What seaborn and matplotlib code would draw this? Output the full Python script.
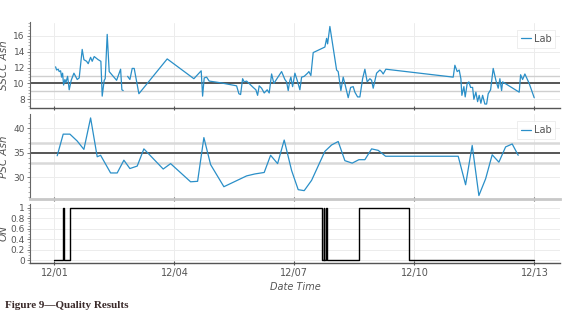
import numpy as np
import pandas as pd
import seaborn as sns
import matplotlib
matplotlib.use("Agg")
import matplotlib.pyplot as plt
import matplotlib.dates as mdates
from matplotlib.ticker import AutoMinorLocator

# ---------------- data (day offsets from 12/01) ----------------
# SSCC Ash, first run (before the short gap)
sscc_days_a = [0.03, 0.055, 0.095, 0.12, 0.155, 0.18, 0.205, 0.23, 0.263, 0.288,
               0.33, 0.37, 0.42, 0.488, 0.57, 0.62, 0.695, 0.738, 0.805, 0.845,
               0.905, 0.945, 0.995, 1.095, 1.162, 1.195, 1.245, 1.27, 1.32, 1.37,
               1.555, 1.655, 1.687, 1.72]
sscc_vals_a = [12.1, 11.7, 11.8, 11.5, 11.6, 10.8, 11.3, 9.8, 10.5, 10.1,
               10.9, 9.2, 10.4, 11.3, 10.5, 10.7, 14.3, 13.0, 12.8, 12.5,
               13.3, 12.8, 13.4, 13.0, 12.8, 8.4, 10.4, 10.6, 16.2, 11.5,
               10.4, 11.8, 9.2, 9.1]
# SSCC Ash, second run
sscc_days_b = [1.83, 1.888, 1.945, 1.995, 2.112, 2.82, 3.487, 3.67, 3.705, 3.745,
               3.805, 3.87, 4.137, 4.555, 4.612, 4.655, 4.705, 4.745, 4.805, 4.97,
               5.037, 5.08, 5.12, 5.18, 5.245, 5.32, 5.37, 5.43, 5.487, 5.537,
               5.68, 5.762, 5.805, 5.845, 5.887, 5.912, 5.955, 6.012, 6.07, 6.137,
               6.18, 6.245, 6.33, 6.362, 6.412, 6.47, 6.762, 6.805, 6.83, 6.887,
               7.055, 7.095, 7.162, 7.22, 7.27, 7.345, 7.405, 7.47, 7.512, 7.58,
               7.637, 7.705, 7.762, 7.82, 7.887, 7.93, 7.97, 8.055, 8.137, 8.18,
               8.22, 8.287, 9.97, 10.012, 10.07, 10.12, 10.162, 10.187, 10.237, 10.27,
               10.32, 10.362, 10.405, 10.455, 10.487, 10.537, 10.58, 10.62, 10.662, 10.705,
               10.762, 10.805, 10.845, 10.905, 10.97, 11.037, 11.095, 11.137, 11.18, 11.205,
               11.62, 11.655, 11.705, 11.762, 11.87, 11.995]
sscc_vals_b = [10.9, 10.5, 11.9, 11.9, 8.7, 13.1, 10.6, 11.6, 8.4, 10.7,
               10.8, 10.3, 10.1, 9.7, 8.7, 8.6, 10.6, 10.2, 10.3, 9.5,
               9.2, 8.5, 9.7, 9.4, 8.8, 9.2, 8.8, 11.2, 10.0, 10.4,
               11.5, 10.5, 10.2, 9.1, 10.4, 10.8, 9.6, 11.3, 10.4, 9.2,
               10.8, 10.9, 11.3, 11.5, 11.0, 13.9, 14.6, 15.7, 15.0, 17.2,
               11.7, 11.5, 9.1, 10.8, 9.8, 8.2, 9.5, 9.6, 8.9, 8.3,
               8.3, 10.6, 11.8, 10.2, 10.6, 10.4, 9.4, 11.3, 11.7, 11.5,
               11.2, 11.8, 10.8, 12.3, 11.5, 11.7, 10.6, 8.5, 9.6, 8.3,
               10.0, 10.2, 9.5, 9.5, 8.0, 8.9, 7.7, 8.5, 7.5, 8.5,
               7.4, 7.4, 8.7, 9.2, 11.9, 10.4, 9.4, 10.6, 9.1, 10.2,
               8.9, 11.1, 10.5, 11.2, 10.0, 8.2]

psc_days = [0.07, 0.22, 0.388, 0.57, 0.737, 0.905, 1.07, 1.155, 1.405, 1.57,
            1.737, 1.887, 2.07, 2.237, 2.72, 2.905, 3.405, 3.58, 3.737, 3.905,
            4.237, 4.805, 5.012, 5.245, 5.405, 5.58, 5.745, 5.93, 6.095, 6.245,
            6.43, 6.762, 6.93, 7.095, 7.262, 7.445, 7.612, 7.762, 7.93, 8.095,
            8.28, 10.095, 10.28, 10.445, 10.612, 10.78, 10.945, 11.112, 11.28, 11.445,
            11.595]
psc_vals = [34.4, 38.8, 38.8, 37.4, 35.7, 42.1, 34.2, 34.5, 30.9, 30.9,
            33.5, 31.8, 32.3, 35.8, 31.7, 32.8, 29.1, 29.2, 38.1, 32.6,
            28.1, 30.3, 30.7, 31.0, 34.5, 32.8, 37.6, 31.4, 27.5, 27.3,
            29.4, 35.3, 36.6, 37.3, 33.4, 32.9, 33.6, 33.6, 35.8, 35.5,
            34.3, 34.3, 28.5, 36.5, 26.3, 29.7, 34.6, 33.1, 36.2, 36.8,
            34.5]

on_days = [0.0, 0.22, 0.232, 0.395, 6.70, 6.735, 6.742, 6.80, 6.807, 7.61, 8.86, 12.0]
on_vals = [0, 1, 0, 1, 0, 1, 0, 1, 0, 1, 0, 0]

date_ticks = ["12/01", "12/04", "12/07", "12/10", "12/13"]
tick_days = [0, 3, 6, 9, 12]

sscc_limits = (9, 10, 11)
psc_limits = (33, 35, 37)

# ---------------- build frames ----------------
start = pd.Timestamp("2021-12-01")

def to_time(days):
    return start + pd.to_timedelta(np.asarray(days, dtype=float), unit="D")

sscc = pd.concat([
    pd.DataFrame({"t": to_time(sscc_days_a), "v": sscc_vals_a, "seg": 0}),
    pd.DataFrame({"t": to_time(sscc_days_b), "v": sscc_vals_b, "seg": 1}),
], ignore_index=True)
psc = pd.DataFrame({"t": to_time(psc_days), "v": psc_vals})
on = pd.DataFrame({"t": to_time(on_days), "v": on_vals})

sns.set_theme(style="white")
plt.rcParams["font.family"] = ["DejaVu Sans"]

W, H = 571, 315
fig = plt.figure(figsize=(W / 100, H / 100), dpi=100)
left, right = 30 / W, 560 / W

def box(top, bottom):
    return [left, 1 - bottom / H, right - left, (bottom - top) / H]

ax1 = fig.add_axes(box(22.5, 108))
ax2 = fig.add_axes(box(114, 199))
ax3 = fig.add_axes(box(204, 263))

blue = "#2a8fc8"
grid_c = "#ececec"
txt_c = "#555555"

for ax in (ax1, ax2, ax3):
    ax.set_facecolor("white")
    for s in ("top", "right"):
        ax.spines[s].set_visible(False)
    ax.spines["left"].set_color("#666666")
    ax.spines["left"].set_linewidth(0.8)
    ax.spines["bottom"].set_color("#555555")
    ax.spines["bottom"].set_linewidth(1.0)
    ax.grid(True, color=grid_c, linewidth=0.7)
    ax.set_axisbelow(True)
    ax.tick_params(axis="y", which="major", length=2.5, width=0.6, color="#666666",
                   labelsize=6.5, labelcolor=txt_c, pad=1.2, left=True)
    ax.tick_params(axis="y", which="minor", length=1.5, width=0.5, color="#888888", left=True)
    ax.tick_params(axis="x", which="major", length=2.5, width=0.8, color="#555555",
                   labelsize=7, labelcolor=txt_c, pad=2, bottom=True, direction="inout")

xlim = (start + pd.Timedelta(days=-0.61), start + pd.Timedelta(days=12.64))
tick_pos = [start + pd.Timedelta(days=d) for d in tick_days]

# panel 1
for y, c, lw in [(sscc_limits[0], "#cfcfcf", 1.0), (sscc_limits[2], "#cfcfcf", 1.0),
                 (sscc_limits[1], "#555555", 1.4)]:
    ax1.axhline(y, color=c, lw=lw, zorder=1)
sns.lineplot(data=sscc, x="t", y="v", units="seg", estimator=None, color=blue, lw=0.9,
             ax=ax1, sort=False)
ax1.set_ylim(6.9, 17.7)
ax1.set_yticks([8, 10, 12, 14, 16])
ax1.yaxis.set_minor_locator(AutoMinorLocator(5))
ax1.set_ylabel("SSCC Ash", fontsize=7.5, color=txt_c, style="italic")

# panel 2
for y, c, lw in [(psc_limits[0], "#d9d9d9", 1.8), (psc_limits[2], "#d9d9d9", 1.8),
                 (psc_limits[1], "#555555", 1.4)]:
    ax2.axhline(y, color=c, lw=lw, zorder=1)
sns.lineplot(data=psc, x="t", y="v", color=blue, lw=0.9, ax=ax2)
ax2.set_ylim(25.6, 42.9)
ax2.set_yticks([30, 35, 40])
ax2.yaxis.set_minor_locator(AutoMinorLocator(5))
ax2.set_ylabel("PSC Ash", fontsize=7.5, color=txt_c, style="italic")
ax2.spines["bottom"].set_color("#c8c8c8")
ax2.spines["bottom"].set_linewidth(2.0)

# panel 3
sns.lineplot(data=on, x="t", y="v", color="black", lw=1.0, ax=ax3, drawstyle="steps-post")
ax3.set_ylim(-0.05, 1.07)
ax3.set_yticks([0, 0.2, 0.4, 0.6, 0.8, 1])
ax3.set_yticklabels(["0", "0.2", "0.4", "0.6", "0.8", "1"])
ax3.yaxis.set_minor_locator(AutoMinorLocator(4))
ax3.set_ylabel("ON", fontsize=7.5, color=txt_c, style="italic")

for ax in (ax1, ax2, ax3):
    ax.set_xlim(*xlim)
    ax.set_xticks(tick_pos)
    ax.xaxis.set_major_formatter(mdates.DateFormatter("%m/%d"))
    ax.set_xlabel("")
    ax.yaxis.set_label_coords(-0.040, 0.5)

ax1.tick_params(axis="x", labelbottom=False)
ax2.tick_params(axis="x", labelbottom=False)
ax3.set_xticks(tick_pos)
ax3.set_xticklabels(date_ticks)
ax3.set_xlabel("Date Time", fontsize=7, color=txt_c, style="italic", labelpad=3)

for ax in (ax1, ax2):
    handle = ax.get_lines()[-1]
    leg = ax.legend([handle], ["Lab"], loc="upper right", fontsize=7, frameon=True, fancybox=False,
                    handlelength=1.0, handletextpad=0.3, borderpad=0.4,
                    bbox_to_anchor=(1.0, 0.97))
    leg.get_frame().set_edgecolor("#e6e6e6")
    leg.get_frame().set_linewidth(0.6)
    for t in leg.get_texts():
        t.set_color(txt_c)

fig.text(5 / W, 1 - 305 / H, "Figure 9\u2014Quality Results", fontsize=8, fontweight="bold",
         family=["Liberation Serif", "DejaVu Serif"], color="#3a2a2a", va="center", ha="left")

fig.savefig("out.png", dpi=100, facecolor="white")
